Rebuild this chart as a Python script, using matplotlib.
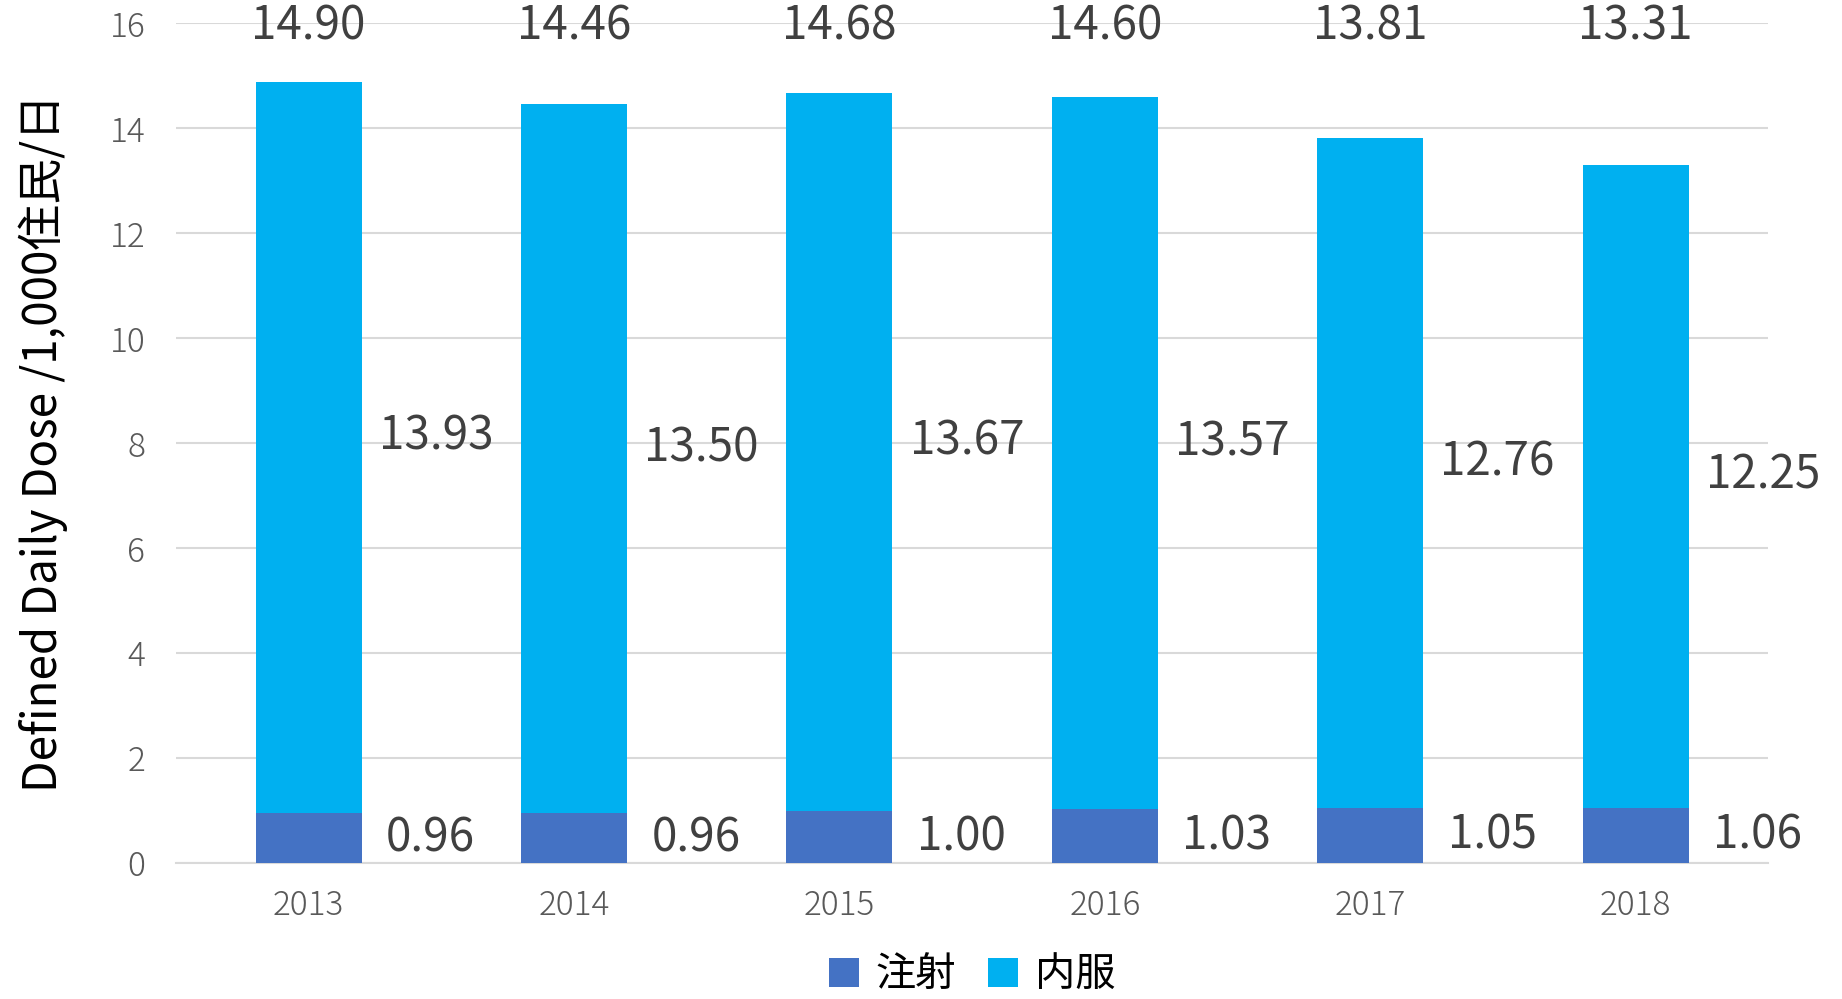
import matplotlib
matplotlib.use("Agg")
import matplotlib.pyplot as plt
import numpy as np

plt.rcParams['font.family'] = ['Noto Sans CJK JP', 'DejaVu Sans']

years = ['2013', '2014', '2015', '2016', '2017', '2018']
injection = [0.96, 0.96, 1.00, 1.03, 1.05, 1.06]   # 注射
oral = [13.93, 13.50, 13.67, 13.57, 12.76, 12.25]  # 内服
totals = [14.90, 14.46, 14.68, 14.60, 13.81, 13.31]

c_inj = '#4472C4'
c_oral = '#00B0F0'

fig = plt.figure(figsize=(18.42, 9.99), dpi=100)
ax = fig.add_axes([0.0955, 0.136, 0.8645, 0.8405])

x = np.arange(len(years))
w = 0.4
ax.bar(x, injection, w, color=c_inj, label='注射', zorder=3)
ax.bar(x, oral, w, bottom=injection, color=c_oral, label='内服', zorder=3)

lab_col = '#404040'
for i in range(len(years)):
    ax.text(x[i] + 0.46, injection[i] / 2, f'{injection[i]:.2f}',
            ha='center', va='center', fontsize=33, color=lab_col)
    ax.text(x[i] + 0.48, injection[i] + oral[i] / 2 + 0.2, f'{oral[i]:.2f}',
            ha='center', va='center', fontsize=33, color=lab_col)
    ax.text(x[i], 15.95, f'{totals[i]:.2f}', ha='center', va='center',
            fontsize=33, color=lab_col, clip_on=False)

ax.set_xlim(-0.5, len(years) - 0.5)
ax.set_ylim(0, 16)
ax.set_yticks(range(0, 17, 2))
ax.set_xticks(x)
ax.set_xticklabels(years)
ax.tick_params(length=0, labelsize=24, labelcolor='#595959')
ax.tick_params(axis='y', pad=22)
ax.tick_params(axis='x', pad=18)
for t in ax.get_xticklabels() + ax.get_yticklabels():
    t.set_fontweight('light')
ax.yaxis.grid(True, color='#D9D9D9', linewidth=1.5, zorder=0)
for s in ['top', 'right', 'left']:
    ax.spines[s].set_visible(False)
ax.spines['bottom'].set_color('#D9D9D9')
ax.spines['bottom'].set_linewidth(1.5)

ax.set_ylabel('Defined Daily Dose /1,000住民/日', fontsize=33, color='black', labelpad=30)

ax.legend(loc='center', bbox_to_anchor=(0.5, -0.133), ncol=2, frameon=False,
          fontsize=29, handlelength=0.75, handleheight=0.75, handletextpad=0.4,
          columnspacing=0.8)

fig.savefig('out.png', dpi=100)
